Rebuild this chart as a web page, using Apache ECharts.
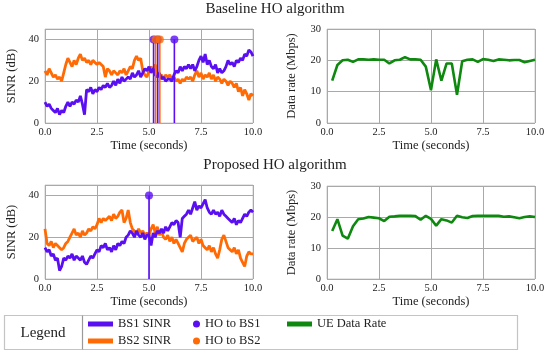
<!DOCTYPE html>
<html><head><meta charset="utf-8">
<script src="https://cdn.jsdelivr.net/npm/echarts@6/dist/echarts.min.js"></script>
<style>html,body{margin:0;padding:0;background:#fff}#c{width:550px;height:355px}</style>
</head><body><div id="c"></div>
<script>
// ---- Data ----
const sinrStep = 0.1; // seconds between SINR samples (0..10)
const baseBS1 = [10,8,9,7,6,5,7,4,6,5, 8,10,8,10,9,11,10,13,9,4, 16,15,17,14,16,15,17,16,18,17,
  19,17,18,20,18,21,19,22,20,21, 22,21,24,22,23,25,22,24,26,25, 27,24,26,23,22,24,21,22,20,21,
  21,20,23,25,24,27,25,27,26,28, 26,28,25,27,30,32,29,33,28,30, 27,26,28,24,26,24,25,27,30,28,
  29,27,30,29,31,30,33,32,35,34, 32];
const baseBS2 = [25,23,26,24,22,23,21,22,20,24, 28,31,29,27,30,28,31,33,30,31, 29,30,28,30,29,28,29,28,27,22,
  26,25,23,25,24,23,25,24,26,23, 25,27,26,30,32,30,31,25,23,22, 25,27,25,28,24,22,23,21,23,22,
  23,21,22,20,21,19,21,20,22,21, 22,20,23,25,22,24,21,23,22,24, 21,23,20,22,21,19,21,20,18,20,
  19,17,19,15,17,13,16,14,11,14, 13];
const propBS1 = [15,13,14,11,12,9,10,4,6,10, 9,11,10,12,9,11,10,9,11,8, 7,9,11,10,12,14,13,16,15,17,
  14,15,13,16,14,17,16,18,17,20, 21,23,22,20,23,21,20,22,19,21, 21,16,22,20,23,22,24,22,25,23,
  25,27,26,28,27,20,29,30,31,33, 31,34,37,33,35,34,36,38,34,32, 31,33,31,32,30,33,31,30,29,28,
  27,29,26,28,27,29,31,30,32,33, 32];
const propBS2 = [24,17,16,18,15,17,16,15,14,15, 17,18,20,22,24,21,22,20,23,21, 22,24,23,25,24,26,29,27,29,28,
  29,30,28,31,29,30,32,33,27,29, 33,27,24,23,22,24,22,23,21,22, 21,24,26,22,25,21,23,20,19,21,
  18,20,17,19,17,15,13,17,19,20, 21,18,19,20,17,19,16,15,14,16, 13,15,12,10,14,19,21,18,15,14,
  13,15,12,14,10,8,6,11,13,12, 12];
const rateTime = [0.25,0.5,0.75,1,1.25,1.5,1.75,2,2.25,2.5,2.75,3,3.25,3.5,3.75,4,4.25,4.5,4.75,5,
  5.25,5.5,5.75,6,6.25,6.5,6.75,7,7.25,7.5,7.75,8,8.25,8.5,8.75,9,9.25,9.5,9.75,10];
const rateBase = [13.5,18.5,20,20.2,19.5,20.3,20.3,20.2,20.3,20.2,20.2,19,20,20.2,21,20.3,20.3,20.2,18,10.5,
  20.3,13.5,19,19,9,19.7,20.2,20.3,19.5,20.4,20.2,19.8,20.3,20.2,20,20.1,20.1,19.4,19.8,20.2];
const rateProp = [15.5,19.3,14,13,17,19.3,19.5,20,19.8,19.6,18.7,20.1,20.2,20.4,20.4,20.4,20.3,19.1,20.4,19.4,
  17.2,19.3,18.9,18.2,20.4,19.9,19.7,20.3,20.4,20.4,20.4,20.4,20.4,20.1,20.2,19.9,19.6,20,20.2,20];
const hoBS1Base = [5.22, 5.42, 6.22];
const hoBS2Base = [5.32, 5.52];
const hoBS1Prop = [5.0];
const hoBS2Prop = [];
const stemHeight = 40;

// ---- Styles ----
const C1 = '#5a0ff2', C2 = '#ff6a05', CG = '#0f880f';
const FF = 'Liberation Serif';
const sinrPts = arr => arr.map((v, i) => [+(i * sinrStep).toFixed(2), v]);
const ratePts = arr => arr.map((v, i) => [rateTime[i], v]);

const grids = [
  {left: 45, top: 29, width: 208, height: 94},
  {left: 327, top: 29, width: 208, height: 94},
  {left: 45, top: 185, width: 208, height: 94},
  {left: 327, top: 186, width: 208, height: 93}
].map(g => Object.assign({show: true, borderColor: '#cccccc', borderWidth: 1, backgroundColor: '#fff'}, g));

const lbl = {fontFamily: FF, fontSize: 10.5, color: '#222'};
const nm = {fontFamily: FF, fontSize: 12.5, color: '#222'};
const xAxes = grids.map((g, i) => ({
  type: 'value', gridIndex: i, min: 0, max: 10, interval: 2.5,
  name: 'Time (seconds)', nameLocation: 'middle', nameGap: 16, nameTextStyle: nm,
  axisLine: {show: false}, axisTick: {show: false},
  axisLabel: Object.assign({margin: 4, formatter: v => v.toFixed(1)}, lbl),
  splitLine: {lineStyle: {color: '#a9a9a9', width: 1}}
}));
const yAxes = grids.map((g, i) => {
  const sinr = (i % 2 === 0);
  return {
    type: 'value', gridIndex: i, min: 0, max: sinr ? 45 : 30, interval: sinr ? 20 : 10,
    name: sinr ? 'SINR (dB)' : 'Data rate (Mbps)', nameLocation: 'middle', nameGap: sinr ? 27 : 29,
    nameTextStyle: nm,
    axisLine: {show: false}, axisTick: {show: false},
    axisLabel: Object.assign({margin: 6, formatter: v => (sinr && v > 40) ? '' : String(v)}, lbl),
    splitLine: {lineStyle: {color: '#a9a9a9', width: 1}}
  };
});

const series = [];
function sinrLine(name, data, color, gi) {
  series.push({type: 'line', name, xAxisIndex: gi, yAxisIndex: gi, data: sinrPts(data),
    showSymbol: false, lineStyle: {color, width: 2.8}, itemStyle: {color}, z: 2, silent: true});
}
function stems(name, times, color, gi) {
  times.forEach(t => series.push({type: 'line', name, xAxisIndex: gi, yAxisIndex: gi,
    data: [[t, 0], [t, stemHeight]], showSymbol: false, lineStyle: {color, width: 1.6},
    itemStyle: {color}, z: 3, silent: true}));
  series.push({type: 'scatter', name, xAxisIndex: gi, yAxisIndex: gi,
    data: times.map(t => [t, stemHeight]), symbol: 'circle', symbolSize: 8,
    itemStyle: {color}, z: 4, silent: true});
}
sinrLine('BS2 SINR', baseBS2, C2, 0);
sinrLine('BS1 SINR', baseBS1, C1, 0);
stems('HO to BS1', hoBS1Base, C1, 0);
stems('HO to BS2', hoBS2Base, C2, 0);
sinrLine('BS2 SINR', propBS2, C2, 2);
sinrLine('BS1 SINR', propBS1, C1, 2);
stems('HO to BS1', hoBS1Prop, C1, 2);
stems('HO to BS2', hoBS2Prop, C2, 2);
[[rateBase, 1], [rateProp, 3]].forEach(([d, gi]) => series.push({type: 'line', name: 'UE Data Rate',
  xAxisIndex: gi, yAxisIndex: gi, data: ratePts(d), showSymbol: false,
  lineStyle: {color: CG, width: 2.6}, itemStyle: {color: CG}, silent: true}));

const legTxt = {fontFamily: FF, fontSize: 12.5, color: '#222', lineHeight: 14};
const legBase = {orient: 'vertical', top: 317, textStyle: legTxt, selectedMode: false, padding: 0, itemGap: 3};
const option = {
  animation: false,
  backgroundColor: '#fff',
  title: [
    {text: 'Baseline HO algorithm', left: 'center', top: 2, padding: 0,
      textStyle: {fontFamily: FF, fontSize: 15, fontWeight: 'normal', color: '#222'}},
    {text: 'Proposed HO algorithm', left: 'center', top: 158, padding: 0,
      textStyle: {fontFamily: FF, fontSize: 15, fontWeight: 'normal', color: '#222'}}
  ],
  grid: grids, xAxis: xAxes, yAxis: yAxes, series,
  legend: [
    Object.assign({left: 88, data: ['BS1 SINR', 'BS2 SINR'], icon: 'rect', itemWidth: 25, itemHeight: 5}, legBase),
    Object.assign({left: 193, data: ['HO to BS1', 'HO to BS2'], icon: 'circle', itemWidth: 7, itemHeight: 7}, legBase),
    Object.assign({left: 287, data: ['UE Data Rate'], icon: 'rect', itemWidth: 25, itemHeight: 5}, legBase)
  ],
  graphic: [
    {type: 'rect', shape: {x: 4.5, y: 315.5, width: 513, height: 34}, style: {fill: 'none', stroke: '#c4c4c4', lineWidth: 1.2}},
    {type: 'line', shape: {x1: 82.5, y1: 315.5, x2: 82.5, y2: 349.5}, style: {stroke: '#9a9a9a', lineWidth: 1.2}},
    {type: 'text', x: 43, y: 333, style: {text: 'Legend', fontFamily: FF, fontSize: 15, fill: '#222', textAlign: 'center', textVerticalAlign: 'middle'}}
  ]
};
const chart = echarts.init(document.getElementById('c'), null, {renderer: 'canvas'});
chart.setOption(option);
</script></body></html>
